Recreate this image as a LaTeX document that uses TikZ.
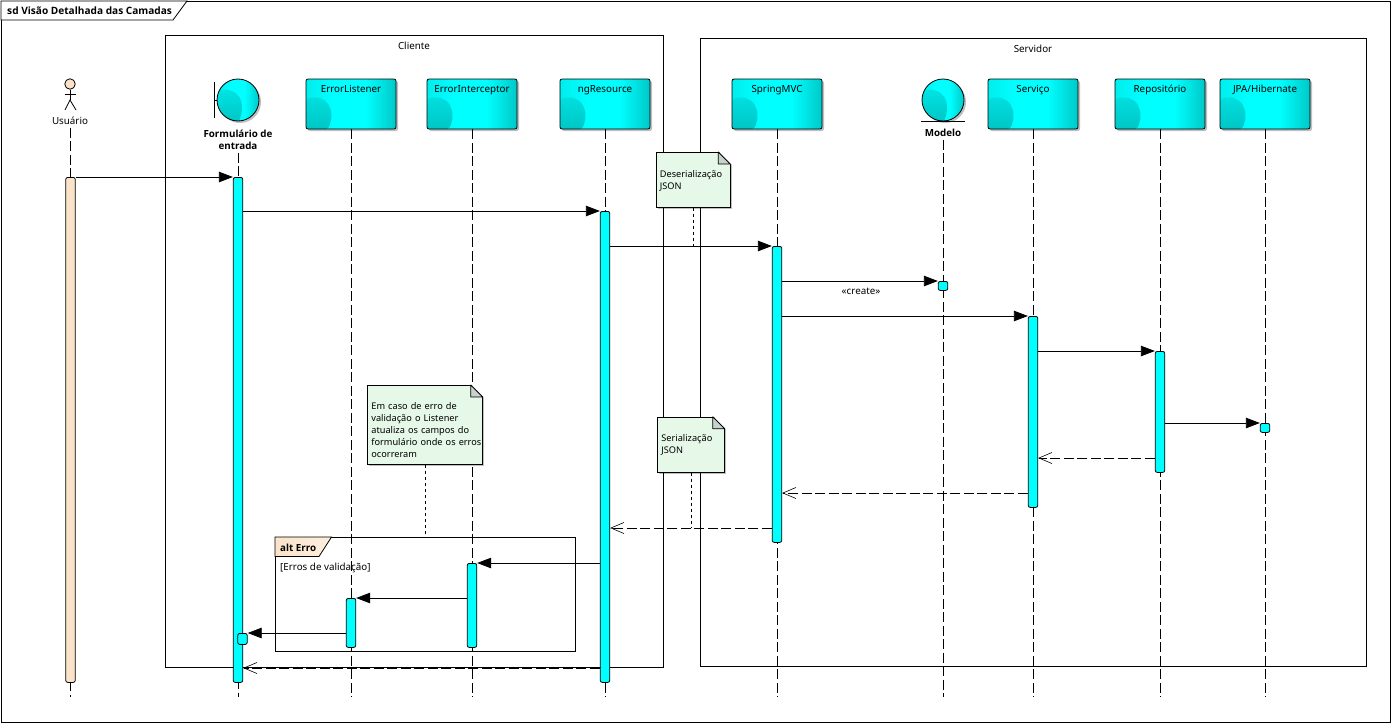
\documentclass[tikz,border=0pt]{standalone}
\usepackage{fontspec}
\setmainfont{Noto Sans}
\newfontfamily\boldfam{Open Sans}
\usetikzlibrary{arrows.meta}
\usetikzlibrary{shadows}
\usetikzlibrary{calc}

\definecolor{actorfill}{HTML}{FAE3C8}
\definecolor{notefill}{HTML}{E6F8E8}
\definecolor{foldfill}{HTML}{C6D2CB}
\definecolor{headdark}{HTML}{00C8C8}
\definecolor{headlight}{HTML}{00FFFF}
\definecolor{blobdark}{HTML}{00C6C6}
\definecolor{blobedge}{HTML}{00EDED}
\pgfdeclarehorizontalshading{headshade}{100bp}{color(0bp)=(blobedge); color(25bp)=(blobedge); color(40bp)=(headlight); color(58bp)=(headlight); color(75bp)=(headdark); color(100bp)=(headdark)}

\tikzset{
	txt/.style={font=\fontsize{9.8}{12}\selectfont},
	boldtxt/.style={font=\fontsize{9.8}{12}\boldfam\bfseries\selectfont},
	cyanbody/.style={draw=black, line width=0.8pt, shading=headshade,
		drop shadow={shadow xshift=2pt, shadow yshift=-2pt, fill=black, opacity=0.25},
		path picture={\shade[top color=blobedge, bottom color=blobdark]
			(path picture bounding box.south west) ++(0,-30) .. controls +(22,-6) and +(8,-18) .. +(22,30) -- (path picture bounding box.south west) -- cycle;}},
	headbox/.style={cyanbody, txt, rounded corners=2pt, inner sep=0pt, minimum width=90pt, text height=13pt, text depth=37pt},
	headcircle/.style={cyanbody, circle, inner sep=0pt, minimum size=42pt},
	bar/.style={draw=black, line width=0.8pt, fill=headlight, rounded corners=2pt, inner sep=0pt, minimum width=9.5pt, anchor=north},
	lifeline/.style={line width=0.8pt, dash pattern=on 10pt off 3.5pt},
	msg/.style={line width=0.8pt, -{Triangle[length=14pt,width=10.5pt]}},
	ret/.style={line width=0.8pt, dash pattern=on 10pt off 3.5pt, -{Straight Barb[length=13pt,width=11pt,line width=0.6pt]}},
	notelink/.style={line width=0.8pt, dash pattern=on 3pt off 3pt},
	notebox/.style={font=\fontsize{9.2}{12}\selectfont, draw=black, line width=0.8pt, fill=notefill, align=left, anchor=north west, inner xsep=4pt, inner ysep=0pt,
		drop shadow={shadow xshift=2pt, shadow yshift=-2pt, fill=black, opacity=0.25}},
	region/.style={draw=black, line width=0.8pt, inner sep=0pt, anchor=north west}
}

\begin{document}
\begin{tikzpicture}[x=1pt,y=-1pt]
	\useasboundingbox (0,0) rectangle (1391,723);

	%Frame
	\node[region, minimum width=1389pt, minimum height=721pt] (frameSd) at (1,1) {};
	\draw[line width=0.8pt, fill=white] (1,1) -- (187,1) -- (173,20) -- (1,20) -- cycle;
	\node[boldtxt, font=\fontsize{10.1}{12}\boldfam\bfseries\selectfont, anchor=base west] (titleSd) at (3.7,14) {sd Visão Detalhada das Camadas};

	%Client and server
	\node[region, minimum width=498pt, minimum height=631.5pt] (regionCliente) at (165,35) {};
	\node[region, minimum width=666pt, minimum height=627.5pt] (regionServidor) at (700,38) {};
	\node[txt, anchor=base] (labelCliente) at (414,49) {Cliente};
	\node[txt, anchor=base] (labelServidor) at (1033,52) {Servidor};

	%Actor
	\node[circle, draw=black, line width=0.8pt, fill=actorfill, inner sep=0pt, minimum size=10.5pt] (headUsuario) at (70,84) {};
	\coordinate (hipUsuario) at (70,100);
	\coordinate (armLeft) at (64.5,94);
	\coordinate (armRight) at (76,94);
	\coordinate (legLeft) at (65,110);
	\coordinate (legRight) at (76,110);
	\draw[line width=0.8pt] (headUsuario) -- (hipUsuario);
	\draw[line width=0.8pt] (armLeft) -- (armRight);
	\draw[line width=0.8pt] (legLeft) -- (hipUsuario) -- (legRight);
	\node[txt, anchor=base] (labelUsuario) at (70,124) {Usuário};

	%Lifeline heads
	\node[headcircle] (headForm) at (238,100) {};
	\coordinate (boundTop) at (214,82);
	\coordinate (boundBottom) at (214,118);
	\draw[line width=0.8pt] (boundTop) -- (boundBottom);
	\draw[line width=0.8pt] (214,100) -- (headForm);
	\node[boldtxt, align=center, anchor=north] (labelForm) at (238,126) {Formulário de\\entrada};
	\node[headbox] (headListener) at (351,104) {ErrorListener};
	\node[headbox] (headInterceptor) at (472,104) {ErrorInterceptor};
	\node[headbox] (headResource) at (605,104) {ngResource};
	\node[headbox] (headSpring) at (777,104) {SpringMVC};
	\node[headcircle] (headModelo) at (943,100) {};
	\coordinate (entityLeft) at (921,121);
	\coordinate (entityRight) at (965,121);
	\draw[line width=0.8pt] (entityLeft) -- (entityRight);
	\node[boldtxt, anchor=base] (labelModelo) at (943,136) {Modelo};
	\node[headbox] (headServico) at (1033,104) {Serviço};
	\node[headbox] (headRepositorio) at (1160,104) {Repositório};
	\node[headbox] (headJpa) at (1265,104) {JPA/Hibernate};

	%Lifelines
	\foreach \from/\xpos in {labelUsuario/70.5,labelForm/238,headListener/351,headInterceptor/472,headResource/605,headSpring/777,labelModelo/943,headServico/1033,headRepositorio/1160,headJpa/1265}
		\draw[lifeline] (\from.south -| \xpos,0) -- (\xpos,697);

	%Activations
	\node[bar, fill=actorfill, minimum height=505pt] (barUsuario) at (70.5,177) {};
	\node[bar, minimum height=505pt] (barForm) at (238,177) {};
	\node[bar, minimum height=471pt] (barResource) at (605,211) {};
	\node[bar, minimum height=296pt] (barSpring) at (777,246) {};
	\node[bar, minimum height=9pt] (barModelo) at (943,281) {};
	\node[bar, minimum height=191pt] (barServico) at (1033,316) {};
	\node[bar, minimum height=121pt] (barRepositorio) at (1160,351) {};
	\node[bar, minimum height=9pt] (barJpa) at (1265,423) {};
	\node[bar, minimum height=84pt] (barInterceptor) at (472,563) {};
	\node[bar, minimum height=49pt] (barListener) at (351,598) {};
	\node[bar, minimum height=11pt] (barFormSub) at (242.5,633) {};

	%Return levels
	\coordinate (retServico) at (0,458);
	\coordinate (retSpring) at (0,493);
	\coordinate (retResource) at (0,528);
	\coordinate (retForm) at (0,668);

	%Messages
	\draw[msg] (barUsuario.north east) -- (barForm.north west);
	\draw[msg] (barForm.east |- barResource.north) -- (barResource.north west);
	\draw[msg] (barResource.east |- barSpring.north) -- (barSpring.north west);
	\draw[msg] (barSpring.east |- barModelo.north) -- (barModelo.north west);
	\draw[msg] (barSpring.east |- barServico.north) -- (barServico.north west);
	\draw[msg] (barServico.east |- barRepositorio.north) -- (barRepositorio.north west);
	\draw[msg] (barRepositorio.east |- barJpa.north) -- (barJpa.north west);
	\draw[msg] (barResource.west |- barInterceptor.north) -- (barInterceptor.north east);
	\draw[msg] (barInterceptor.west |- barListener.north) -- (barListener.north east);
	\draw[msg] (barListener.west |- barFormSub.north) -- (barFormSub.north east);
	\draw[ret] (barRepositorio.west |- retServico) -- (barServico.east |- retServico);
	\draw[ret] (barServico.west |- retSpring) -- (barSpring.east |- retSpring);
	\draw[ret] (barSpring.west |- retResource) -- (barResource.east |- retResource);
	\draw[ret] (barResource.west |- retForm) -- (barForm.east |- retForm);
	\node[txt, anchor=base] (labelCreate) at (861,294) {«create»};

	%Alt fragment
	\node[region, minimum width=300pt, minimum height=114pt] (altErro) at (275,537) {};
	\draw[line width=0.8pt, left color=actorfill, right color=actorfill!60!white] (275,537) -- (331.5,537) -- (319,556.5) -- (275,556.5) -- cycle;
	\node[boldtxt, anchor=base west] (labelAlt) at (276.7,551) {alt Erro};
	\node[txt, anchor=base west] (labelGuard) at (276.7,570) {[Erros de validação]};

	%Notes
	\node[notebox, text width=66pt, text height=25.5pt, text depth=29.5pt] (noteDes) at (655.5,152) {Deserialização\\JSON};
	\node[notebox, text width=59pt, text height=24.5pt, text depth=30.5pt] (noteSer) at (657,416.8) {Serialização\\JSON};
	\node[notebox, text width=107pt, text height=24.5pt, text depth=54.5pt] (noteErr) at (367,385) {Em caso de erro de\\validação o Listener\\atualiza os campos do\\\mbox{formulário onde os erros}\\ocorreram};
	\foreach \n in {noteDes,noteSer,noteErr} {
		\fill[white] ($(\n.north east)+(-12,-1)$) -- ($(\n.north east)+(3,-1)$) -- ($(\n.north east)+(3,12)$) -- ($(\n.north east)+(0,12)$) -- cycle;
		\draw[line width=0.8pt, fill=foldfill, line join=round] ($(\n.north east)+(-12,0)$) -- ($(\n.north east)+(0,12)$) -- ($(\n.north east)+(-12,12)$) -- cycle;
	}
	\draw[notelink] (noteDes.south) -- (noteDes.south |- barSpring.north);
	\draw[notelink] (noteSer.south) -- (noteSer.south |- retResource);
	\draw[notelink] (noteErr.south) -- (noteErr.south |- altErro.north);
\end{tikzpicture}
\end{document}
